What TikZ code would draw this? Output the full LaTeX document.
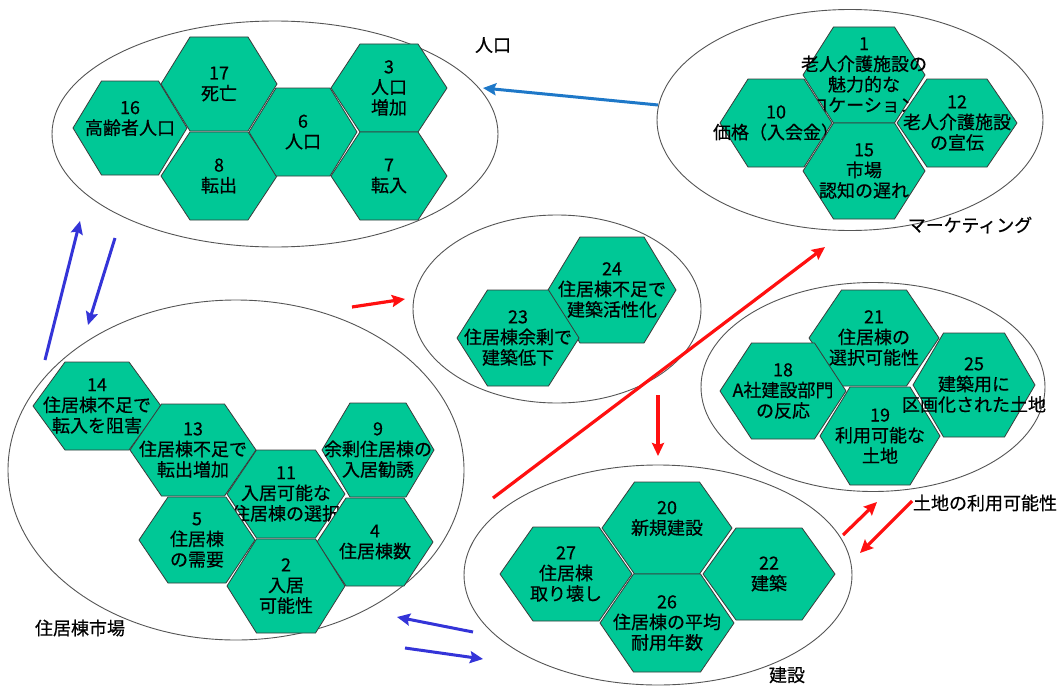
\documentclass[tikz,border=0pt]{standalone}
\usepackage{fontspec}
\setmainfont{Noto Sans CJK JP}[FakeBold=0.5]
\usetikzlibrary{arrows.meta,shapes.geometric}
\definecolor{hexgreen}{HTML}{00C896}
\definecolor{hexline}{HTML}{3A3A3A}
\definecolor{grpline}{HTML}{555555}
\definecolor{mblue}{HTML}{1E78C8}
\definecolor{iblue}{HTML}{3434D8}
\definecolor{mred}{HTML}{FF1010}
\tikzset{
  hexshape/.style={fill=hexgreen, draw=hexline, line width=0.8pt, line join=miter},
  hextext/.style={align=center, inner sep=0pt, font=\fontsize{18}{20.5}\selectfont},
  grp/.style={ellipse, draw=grpline, line width=0.9pt, inner sep=0pt},
  grplabel/.style={inner sep=0pt, font=\fontsize{18}{20.5}\selectfont},
  bluearr/.style={draw=mblue, line width=3pt, -{Stealth[length=13pt,width=12pt,inset=2pt]}},
  indarr/.style={draw=iblue, line width=3pt, -{Stealth[length=13pt,width=12pt,inset=2pt]}},
  redarr/.style={draw=mred, line width=3.2pt, -{Stealth[length=13pt,width=12pt,inset=2pt]}},
  redline/.style={draw=mred, line width=3.2pt, -{Stealth[length=13pt,width=12pt,inset=2pt]}}
}
\newcommand\hexnode[6]{%
  \filldraw[hexshape] (#2,#3) ++(-#4,0) -- ++(#4/2,#5) -- ++(#4,0) -- ++(#4/2,-#5) -- ++(-#4/2,-#5) -- ++(-#4,0) -- cycle;
  \node[hextext] (#1) at (#2,#3) {#6};}
\begin{document}
\begin{tikzpicture}[x=1pt,y=-1pt]
\useasboundingbox[fill=white] (0,0) rectangle (1062,685);

% group ellipses
\node[grp, minimum width=446pt, minimum height=226pt] (popG) at (275,134) {};
\node[grp, minimum width=386pt, minimum height=221pt] (mktG) at (850,120) {};
\node[grp, minimum width=288pt, minimum height=188pt] (midG) at (557,309) {};
\node[grp, minimum width=344pt, minimum height=209pt] (landG) at (873,387) {};
\node[grp, minimum width=456pt, minimum height=340pt] (houseG) at (236,470) {};
\node[grp, minimum width=388pt, minimum height=220pt] (consG) at (658,575) {};

% population
\hexnode{h16}{130}{128}{57}{47}{16\\高齢者人口\\\mbox{}}
\hexnode{h17}{219}{84}{58}{47}{17\\死亡}
\hexnode{h8}{219}{176}{58}{44}{8\\転出}
\hexnode{h6}{303}{132}{54}{44}{6\\人口}
\hexnode{h3}{389}{88}{58}{44}{3\\人口\\増加}
\hexnode{h7}{389}{176}{58}{44}{7\\転入}

% marketing
\hexnode{h1}{864}{75}{61}{48}{1\\老人介護施設の\\魅力的な\\ロケーション}
\hexnode{h10}{776}{123}{56}{44}{10\\価格（入会金）}
\hexnode{h12}{957}{123}{60}{44}{12\\老人介護施設\\の宣伝}
\hexnode{h15}{864}{171}{61}{48}{15\\市場\\認知の遅れ}

% middle
\hexnode{h24}{612}{290}{64}{53}{24\\住居棟不足で\\建築活性化}
\hexnode{h23}{518}{338}{61}{48}{23\\住居棟余剰で\\建築低下}

% land
\hexnode{h21}{874}{338}{65}{48}{21\\住居棟の\\選択可能性}
\hexnode{h18}{783}{391}{63}{48}{18\\A社建設部門\\の反応}
\hexnode{h19}{880}{436}{60}{49}{19\\利用可能な\\土地}
\hexnode{h25}{974}{385}{61}{52}{25\\建築用に\\区画化された土地}

% housing market
\hexnode{h14}{97}{406}{64}{44}{14\\住居棟不足で\\転入を阻害}
\hexnode{h13}{193}{450}{63}{46}{13\\住居棟不足で\\転出増加}
\hexnode{h11}{286}{494}{59}{44}{11\\入居可能な\\住居棟の選択}
\hexnode{h9}{378}{450}{56}{47}{9\\余剰住居棟の\\入居勧誘}
\hexnode{h5}{197}{540}{58}{43}{5\\住居棟\\の需要}
\hexnode{h4}{375}{542}{58}{44}{4\\住居棟数}
\hexnode{h2}{286}{586}{59}{47}{2\\入居\\可能性}

% construction
\hexnode{h20}{667}{528}{65}{46}{20\\新規建設\\\mbox{}}
\hexnode{h27}{566}{574}{66}{47}{27\\住居棟\\取り壊し}
\hexnode{h22}{769}{574}{66}{46}{22\\建築}
\hexnode{h26}{667}{623}{67}{49}{26\\住居棟の平均\\耐用年数}

% group labels
\node[grplabel] (lpop) at (493,45) {人口};
\node[grplabel] (lmkt) at (970,225) {マーケティング};
\node[grplabel] (lland) at (985,503) {土地の利用可能性};
\node[grplabel] (lcons) at (787,675) {建設};
\node[grplabel] (lhouse) at (80,628) {住居棟市場};

% arrow end points
\coordinate (a1s) at (658,105); \coordinate (a1e) at (483,88);
\coordinate (a2s) at (45,360);  \coordinate (a2e) at (80,221);
\coordinate (a3s) at (115,238); \coordinate (a3e) at (88,325);
\coordinate (a4s) at (473,632); \coordinate (a4e) at (397,617);
\coordinate (a5s) at (405,648); \coordinate (a5e) at (483,659);
\coordinate (r1s) at (352,307); \coordinate (r1e) at (405,299);
\coordinate (r2s) at (658,395); \coordinate (r2e) at (658,456);
\coordinate (r3s) at (493,498); \coordinate (r3e) at (825,247);
\coordinate (r4s) at (843,535); \coordinate (r4e) at (877,502);
\coordinate (r5s) at (912,501); \coordinate (r5e) at (860,553);

\draw[bluearr] (a1s) -- (a1e);
\draw[indarr] (a2s) -- (a2e);
\draw[indarr] (a3s) -- (a3e);
\draw[indarr] (a4s) -- (a4e);
\draw[indarr] (a5s) -- (a5e);
\draw[redarr] (r1s) -- (r1e);
\draw[redarr] (r2s) -- (r2e);
\draw[redline] (r3s) -- (r3e);
\draw[redarr] (r4s) -- (r4e);
\draw[redarr] (r5s) -- (r5e);
\end{tikzpicture}
\end{document}
